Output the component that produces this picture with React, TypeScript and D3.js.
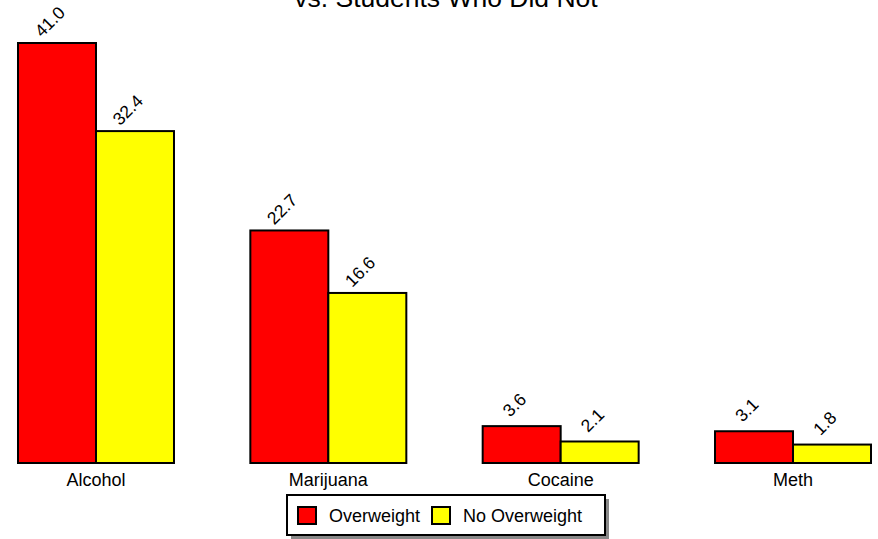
import React from "react";
import * as d3 from "d3";

const categories = ["Alcohol", "Marijuana", "Cocaine", "Meth"];
const seriesNames = ["Overweight", "No Overweight"];
const overweight = [41.0, 22.7, 3.6, 3.1];
const noOverweight = [32.4, 16.6, 2.1, 1.8];
const seriesColors = ["#ff0000", "#ffff00"];
const titleLine = "vs. Students Who Did Not";

const W = 878;
const H = 539;
const FONT = "Arial, 'Liberation Sans', Helvetica, sans-serif";

export default function App() {
  const x0 = d3.scaleBand<string>().domain(categories).range([18, 871]).paddingInner(0.3286).paddingOuter(0);
  const x1 = d3.scaleBand<string>().domain(seriesNames).range([0, x0.bandwidth()]).padding(0);
  const y = d3.scaleLinear().domain([0, 41]).range([463, 43]);
  const values = [overweight, noOverweight];

  return (
    <svg width={W} height={H} style={{ position: "absolute", left: 0, top: 0, background: "#fff" }} fontFamily={FONT}>
      <text x={446} y={7} textAnchor="middle" fontSize={26.5} fill="#000">{titleLine}</text>
      {categories.map((c, i) => (
        <g key={c}>
          {seriesNames.map((s, j) => {
            const v = values[j][i];
            const bx = (x0(c) ?? 0) + (x1(s) ?? 0);
            const bw = x1.bandwidth();
            const top = y(v);
            const cx = bx + bw / 2;
            return (
              <g key={s}>
                <rect x={bx} y={top} width={bw} height={y(0) - top} fill={seriesColors[j]} stroke="#000" strokeWidth={2} />
                <text
                  transform={`translate(${cx - 3},${top - 17}) rotate(-45)`}
                  textAnchor="middle"
                  fontSize={17.5}
                  fill="#000"
                >
                  {v.toFixed(1)}
                </text>
              </g>
            );
          })}
          <text x={(x0(c) ?? 0) + x0.bandwidth() / 2} y={486} textAnchor="middle" fontSize={18} fill="#000">{c}</text>
        </g>
      ))}
      <g>
        <rect x={291} y={499} width={318} height={40} fill="#888" />
        <rect x={287} y={495} width={318} height={40} fill="#fff" stroke="#000" strokeWidth={2} />
        {seriesNames.map((s, j) => {
          const lx = j === 0 ? 298 : 432;
          return (
            <g key={s}>
              <rect x={lx} y={507} width={18} height={17} fill={seriesColors[j]} stroke="#000" strokeWidth={2} />
              <text x={lx + 31} y={522} fontSize={18} fill="#000">{s}</text>
            </g>
          );
        })}
      </g>
    </svg>
  );
}
